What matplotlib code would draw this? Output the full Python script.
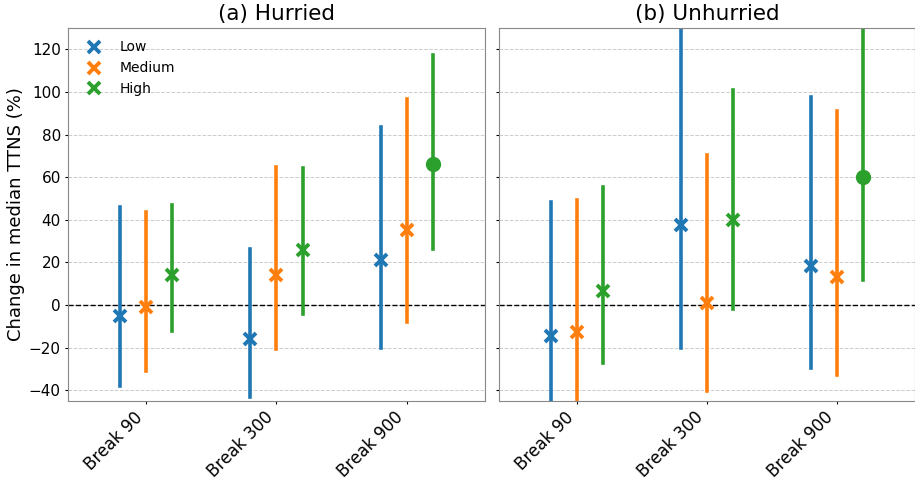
import matplotlib
matplotlib.use('Agg')
import matplotlib.pyplot as plt
import numpy as np

# data
breaks = ['Break 90', 'Break 300', 'Break 900']
levels = ['Low', 'Medium', 'High']
colors = ['#1f77b4', '#ff7f0e', '#2ca02c']

# hurried: median change, lower and upper bounds (%) per level, per break
hur_mid = [[-5, -16, 21], [-1, 14, 35], [14, 26, 66]]
hur_lo = [[-38, -43, -20], [-31, -20.5, -8], [-12, -4, 26.5]]
hur_hi = [[46, 26.5, 83.5], [43.5, 65, 96.5], [47, 64.5, 117.5]]

# unhurried
unh_mid = [[-14.5, 37.5, 18.3], [-12.5, 0.8, 13.3], [6.8, 40, 60.2]]
unh_lo = [[-48, -20.3, -29.4], [-50, -40.5, -32.7], [-27, -2, 12]]
unh_hi = [[48.2, 135, 97.5], [49.3, 70.3, 91], [55.4, 101, 129]]

# marker per point (dot where it stands out)
hur_mark = [['x', 'x', 'x'], ['x', 'x', 'x'], ['x', 'x', 'o']]
unh_mark = [['x', 'x', 'x'], ['x', 'x', 'x'], ['x', 'x', 'o']]

offsets = [-0.2, 0.0, 0.2]

fig = plt.figure(figsize=(9.15, 4.82), dpi=100)
ax1 = fig.add_axes([0.0743, 0.168, 0.4557, 0.774])
ax2 = fig.add_axes([0.5454, 0.168, 0.4546, 0.774], sharey=ax1)


def draw_panel(ax, mid, lo, hi, marks, title):
    x = np.arange(len(breaks))
    for i, lev in enumerate(levels):
        for j in range(len(breaks)):
            xx = x[j] + offsets[i]
            ax.plot([xx, xx], [lo[i][j], hi[i][j]], color=colors[i], lw=2.6, zorder=2)
            if marks[i][j] == 'x':
                ax.plot(xx, mid[i][j], marker='x', ms=8, mew=2.8, color=colors[i], zorder=3)
            else:
                ax.plot(xx, mid[i][j], marker='o', ms=10, color=colors[i], zorder=3)
    ax.axhline(0, color='black', ls='--', lw=1, zorder=1)
    ax.set_xlim(-0.6, 2.6)
    ax.set_ylim(-45, 130)
    ax.set_yticks(np.arange(-40, 121, 20))
    ax.set_xticks(x)
    ax.set_xticklabels(breaks, rotation=45, ha='right', fontsize=12)
    ax.tick_params(axis='both', length=2.2, pad=3)
    ax.tick_params(axis='y', labelsize=11)
    ax.yaxis.grid(True, ls='--', color='#cccccc', lw=0.7)
    ax.set_axisbelow(True)
    for sp in ax.spines.values():
        sp.set_color('#888888')
    ax.set_title(title, fontsize=15.5)


draw_panel(ax1, hur_mid, hur_lo, hur_hi, hur_mark, '(a) Hurried')
draw_panel(ax2, unh_mid, unh_lo, unh_hi, unh_mark, '(b) Unhurried')
plt.setp(ax2.get_yticklabels(), visible=False)
ax1.set_ylabel('Change in median TTNS (%)', fontsize=13, labelpad=3)

handles = [plt.Line2D([], [], ls='none', marker='x', ms=8, mew=2.8, color=c) for c in colors]
ax1.legend(handles, levels, loc='upper left', frameon=False, fontsize=10)

fig.savefig('out.png', dpi=100)
